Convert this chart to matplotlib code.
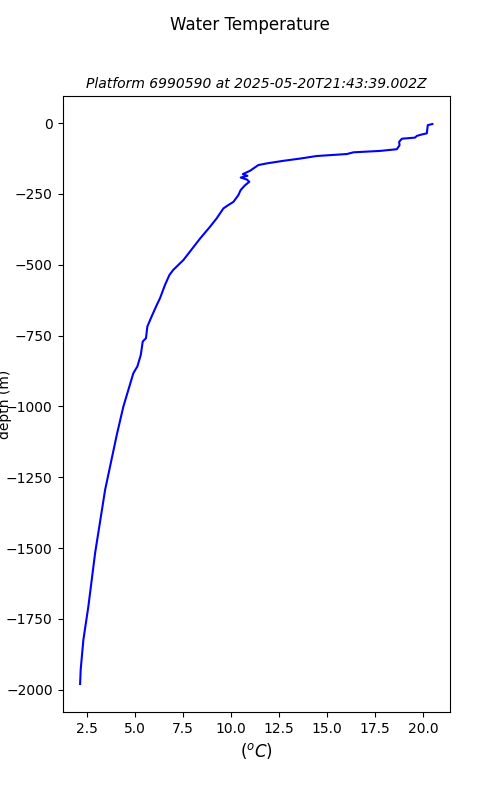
import matplotlib
matplotlib.use("Agg")
import matplotlib.pyplot as plt

# temperature (deg C) and depth (m) read from the profile
temperature = [20.48, 20.24, 20.19, 19.93, 19.67, 19.58, 18.89, 18.75, 18.77, 18.63,
               17.76, 16.37, 16.03, 14.46, 13.6, 12.72, 11.86, 11.42, 11.16, 10.99,
               10.61, 10.85, 10.5, 10.82, 10.95, 10.73, 10.5, 10.38, 10.12, 9.86,
               9.6, 9.25, 8.9, 8.39, 7.52, 6.99, 6.79, 6.56, 6.30, 6.13,
               5.86, 5.64, 5.57, 5.40, 5.30, 5.12, 4.91, 4.65, 4.39, 4.05,
               3.44, 2.92, 2.57, 2.31, 2.17, 2.14]
depth = [-3, -7, -36, -40, -45, -51, -55, -66, -78, -92,
         -98, -103, -109, -116, -125, -133, -142, -148, -160, -168,
         -180, -186, -192, -199, -207, -219, -236, -254, -278, -289,
         -301, -336, -366, -407, -483, -518, -536, -571, -618, -642,
         -683, -718, -759, -771, -818, -859, -883, -942, -1001, -1100,
         -1295, -1518, -1706, -1824, -1929, -1980]

fig, ax = plt.subplots(figsize=(5, 8), dpi=100)
ax.plot(temperature, depth, color='blue')
fig.suptitle("Water Temperature")
ax.set_title("Platform 6990590 at 2025-05-20T21:43:39.002Z", fontsize=10, style='italic')
ax.set_xlabel("($^oC$)", fontsize=12)
ax.set_ylabel("depth (m)")
ax.yaxis.set_label_coords(-0.13, 0.5)

plt.savefig("out.png")
